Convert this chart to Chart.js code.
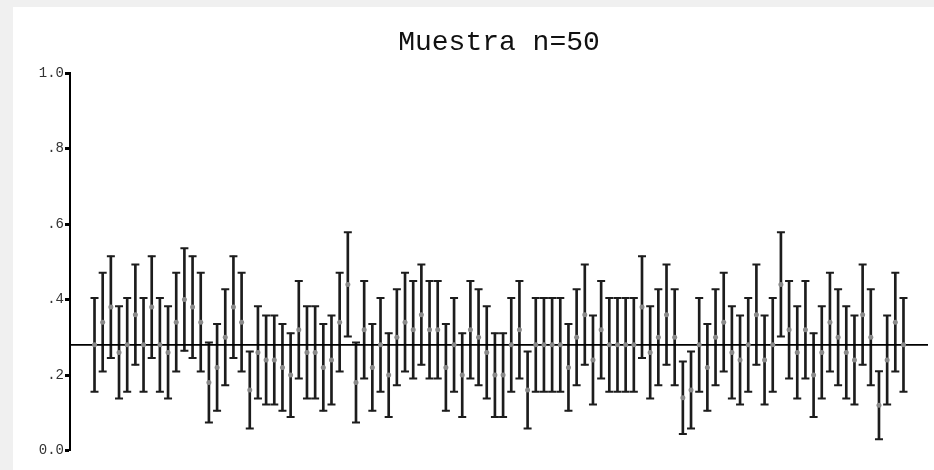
<!DOCTYPE html>
<html>
<head>
<meta charset="utf-8">
<script src="https://cdn.jsdelivr.net/npm/chart.js@4"></script>
<style>
  html, body { margin: 0; padding: 0; background: #f0f0f0; }
  #wrap { position: relative; width: 934px; height: 470px; overflow: hidden; }
  #panel { position: absolute; left: 13px; top: 7px; right: 0; bottom: 0; background: #ffffff; }
  #c { position: absolute; left: 0; top: 0; }
</style>
</head>
<body>
<div id="wrap">
  <div id="panel"></div>
  <canvas id="c" width="934" height="470"></canvas>
</div>
<script>
// Sample proportions (n = 50) for 100 repeated samples
const proportions = [
  0.28,0.34,0.38,0.26,0.28,0.36,0.28,0.38,0.28,0.26,
  0.34,0.40,0.38,0.34,0.18,0.22,0.30,0.38,0.34,0.16,
  0.26,0.24,0.24,0.22,0.20,0.32,0.26,0.26,0.22,0.24,
  0.34,0.44,0.18,0.32,0.22,0.28,0.20,0.30,0.34,0.32,
  0.36,0.32,0.32,0.22,0.28,0.20,0.32,0.30,0.26,0.20,
  0.20,0.28,0.32,0.16,0.28,0.28,0.28,0.28,0.22,0.30,
  0.36,0.24,0.32,0.28,0.28,0.28,0.28,0.38,0.26,0.30,
  0.36,0.30,0.14,0.16,0.28,0.22,0.30,0.34,0.26,0.24,
  0.28,0.36,0.24,0.28,0.44,0.32,0.26,0.32,0.20,0.26,
  0.34,0.30,0.26,0.24,0.36,0.30,0.12,0.24,0.34,0.28
];

// Lower ends of the 95% intervals
const lowerBounds = [
  0.156,0.209,0.245,0.138,0.156,0.227,0.156,0.245,0.156,0.138,
  0.209,0.264,0.245,0.209,0.074,0.105,0.173,0.245,0.209,0.058,
  0.138,0.122,0.122,0.105,0.089,0.191,0.138,0.138,0.105,0.122,
  0.209,0.302,0.074,0.191,0.105,0.156,0.089,0.173,0.209,0.191,
  0.227,0.191,0.191,0.105,0.156,0.089,0.191,0.173,0.138,0.089,
  0.089,0.156,0.191,0.058,0.156,0.156,0.156,0.156,0.105,0.173,
  0.227,0.122,0.191,0.156,0.156,0.156,0.156,0.245,0.138,0.173,
  0.227,0.173,0.044,0.058,0.156,0.105,0.173,0.209,0.138,0.122,
  0.156,0.227,0.122,0.156,0.302,0.191,0.138,0.191,0.089,0.138,
  0.209,0.173,0.138,0.122,0.227,0.173,0.030,0.122,0.209,0.156
];

// Upper ends of the 95% intervals
const upperBounds = [
  0.404,0.471,0.515,0.382,0.404,0.493,0.404,0.515,0.404,0.382,
  0.471,0.536,0.515,0.471,0.286,0.335,0.427,0.515,0.471,0.262,
  0.382,0.358,0.358,0.335,0.311,0.449,0.382,0.382,0.335,0.358,
  0.471,0.578,0.286,0.449,0.335,0.404,0.311,0.427,0.471,0.449,
  0.493,0.449,0.449,0.335,0.404,0.311,0.449,0.427,0.382,0.311,
  0.311,0.404,0.449,0.262,0.404,0.404,0.404,0.404,0.335,0.427,
  0.493,0.358,0.449,0.404,0.404,0.404,0.404,0.515,0.382,0.427,
  0.493,0.427,0.236,0.262,0.404,0.335,0.427,0.471,0.382,0.358,
  0.404,0.493,0.358,0.404,0.578,0.449,0.382,0.449,0.311,0.382,
  0.471,0.427,0.382,0.358,0.493,0.427,0.210,0.358,0.471,0.404
];

// Population proportion shown as the reference line
const populationP = 0.28;

// Sample numbers along the horizontal axis
const sampleIds = proportions.map((_, i) => i + 1);

// Y axis tick labels (0.0 .. 1.0)
const yTickValues = [0, 0.2, 0.4, 0.6, 0.8, 1.0];
const yTickLabels = ['0.0', '.2', '.4', '.6', '.8', '1.0'];

const INK = '#1c1c1c';
const MONO = "'Liberation Mono', 'Courier New', monospace";

const stems = sampleIds.map((x, i) => ({ x: x, y: [lowerBounds[i], upperBounds[i]] }));
const caps = sampleIds.flatMap((x, i) => [{ x: x, y: lowerBounds[i] }, { x: x, y: upperBounds[i] }]);
const centers = sampleIds.map((x, i) => ({ x: x, y: proportions[i] }));
const xMin = sampleIds[0] - 3;
const xMax = sampleIds[sampleIds.length - 1] + 3;

new Chart(document.getElementById('c'), {
  type: 'bar',
  data: {
    datasets: [
      {
        type: 'line',
        data: centers,
        showLine: false,
        pointStyle: 'circle',
        pointRadius: 2.5,
        pointBackgroundColor: '#8a8a8a',
        pointBorderWidth: 0,
        order: 0
      },
      {
        type: 'line',
        data: [{ x: xMin, y: populationP }, { x: xMax, y: populationP }],
        borderColor: '#000000',
        borderWidth: 1.6,
        pointRadius: 0,
        order: 1
      },
      {
        type: 'line',
        data: caps,
        showLine: false,
        pointStyle: 'line',
        pointRadius: 4,
        pointBorderColor: INK,
        pointBorderWidth: 2,
        order: 2
      },
      {
        type: 'bar',
        data: stems,
        backgroundColor: INK,
        borderWidth: 0,
        barThickness: 2,
        order: 3
      }
    ]
  },
  options: {
    responsive: false,
    animation: false,
    devicePixelRatio: 1,
    events: [],
    layout: { padding: { left: 0, right: 5, top: 0, bottom: 19.5 } },
    plugins: {
      legend: { display: false },
      tooltip: { enabled: false },
      title: {
        display: true,
        fullSize: false,
        text: 'Muestra n=50',
        color: '#111111',
        font: { family: MONO, size: 28, weight: 'normal', lineHeight: 1.2 },
        padding: { top: 26, bottom: 13.5 }
      }
    },
    scales: {
      x: {
        type: 'linear',
        min: xMin,
        max: xMax,
        offset: false,
        display: false
      },
      y: {
        type: 'linear',
        min: 0,
        max: 1,
        afterFit: (scale) => { scale.width = 70; },
        afterBuildTicks: (scale) => { scale.ticks = yTickValues.map(v => ({ value: v })); },
        ticks: {
          padding: 1,
          color: '#333333',
          font: { family: MONO, size: 14 },
          callback: (value) => {
            const k = yTickValues.findIndex(v => Math.abs(v - value) < 1e-9);
            return k >= 0 ? yTickLabels[k] : '';
          }
        },
        grid: {
          drawOnChartArea: false,
          drawTicks: true,
          tickLength: 5,
          tickWidth: 3,
          tickColor: '#000000'
        },
        border: { display: true, color: '#000000', width: 2 }
      }
    }
  }
});
</script>
</body>
</html>
